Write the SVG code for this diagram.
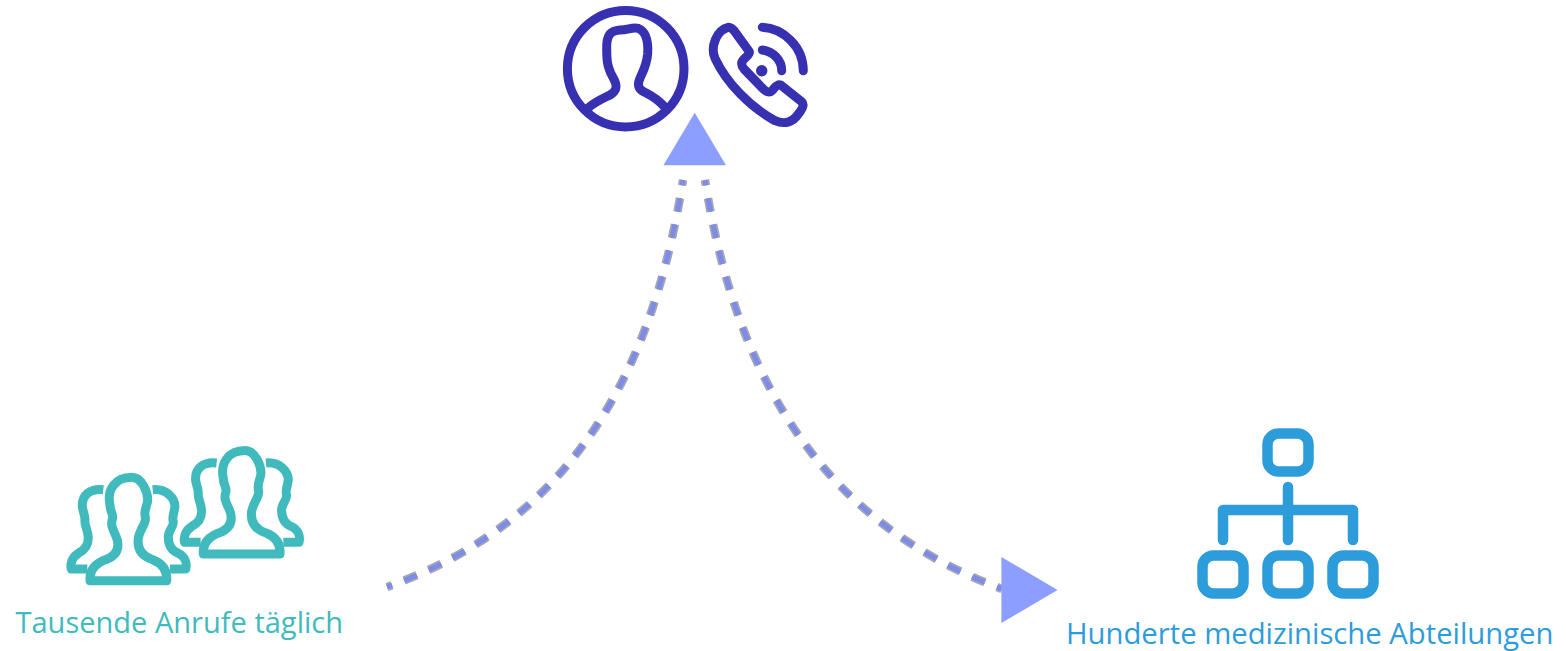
<svg xmlns="http://www.w3.org/2000/svg" width="1566" height="651" viewBox="0 0 1566 651">
<style>
.label{font-family:"Open Sans","Noto Sans","Liberation Sans",sans-serif;font-size:30px}
.tri{fill:#8c9eff}
.wire{fill:none;stroke:#7d8ce6;stroke-width:5;stroke-dasharray:13 12;stroke-dashoffset:8}
.halo{fill:none;stroke:#8f8fa0;stroke-width:8.5;stroke-dasharray:13 12;stroke-dashoffset:8;opacity:.8}
.ph{fill:none;stroke:#3730b0;stroke-width:9;stroke-linecap:round;stroke-linejoin:round}
.team{fill:none;stroke:#40babd;stroke-width:9;stroke-linejoin:round}
.org{fill:none;stroke:#2d9cdb;stroke-width:10.5;stroke-linecap:round;stroke-linejoin:round}
</style>
<defs>
<filter id="soft" x="-5%" y="-5%" width="110%" height="110%"><feGaussianBlur stdDeviation="0.7"/></filter>
<g id="team">
<path d="M90,580.700C89.300,570 95,563.300 106.700,559.300C116.700,555 119.300,548.300 117.300,540C115,531.700 109.300,526.700 112.700,518.300C113.300,513.300 110,511.700 110,505C106.700,490 115,477.300 131.700,477.300C141.700,477.300 147.700,491.700 147.700,500C147.700,505 143.300,510 145.300,517.300C146.700,523.300 140,528.300 138.300,538.300C136.700,550 143.300,556.700 153.300,560C163.300,564 167.300,571.700 166.700,580.700Z"/>
<path d="M103.300,489.700C90,488.300 81.700,495 82.300,506.700C83.300,513.300 85,515 85,520C84,525 88.300,530 88.300,538.300C88.300,546.700 83.300,550.700 78.300,553.300C71.700,557.300 70,565 71.300,569H87.300"/>
<path d="M152.700,489.700C166.700,488.300 175,498.300 175,506.700C174,513.300 171.700,518.300 173.300,521.700C174,526.700 168.300,530 168.300,536.700C168.300,545 171.700,550.700 178.300,553.300C185,556.700 187.300,563.300 185.700,569H170"/>
</g>
</defs>
<g id="connectors">
<g filter="url(#soft)">
<path class="halo" pathLength="497" d="M683,180C650,390 560,525 387,587"/>
<path class="halo" pathLength="497" d="M705,180C738,390 830,525 1002,589"/>
<path class="wire" pathLength="497" d="M683,180C650,390 560,525 387,587"/>
<path class="wire" pathLength="497" d="M705,180C738,390 830,525 1002,589"/>
</g>
<polygon class="tri" points="694.700,112.700 663.400,165.300 726,165.300"/>
<polygon class="tri" points="1001.400,557 1057.500,590 1001.400,623"/>
</g>
<g id="node-agent">
<circle class="ph" cx="625.700" cy="68.700" r="58.300"/>
<path class="ph" d="M587.700,108.300C595,101.700 603.300,98.300 610,95C617.300,90.700 617.300,86 614,79.300C608.300,70 606.700,63.300 606.700,50C606,33.300 611.700,30.700 620,30C628.300,30 631.700,26.700 638.300,28.300C646.700,31.700 648.300,41.700 647.700,53.300C646.700,66.700 641.700,73.300 639.300,80C636.700,87.300 640,90 646.700,93.300C653.300,96.700 660,101.700 665,107.300"/>
<path class="ph" d="M728.300,27.300C732.700,27.300 734,30.700 736.700,34.300L749.300,51.700C750,54 746.700,56.700 744,59C740.700,62.300 741,65.700 744,69L761.700,87.300C766.700,92.700 770,93.300 773.300,89.300C775,87.300 777.300,84 780.700,85L801.700,101.700C805,105 801.700,110 798.300,114C793.300,121.700 785,125 775,120.700C750,106.700 726.700,83.300 715,58.300C710,46.700 716.700,30 728.300,27.300Z"/>
<path class="ph" d="M762.300,27.300C783.300,28.300 803.300,46.700 803.300,70.700"/>
<path class="ph" d="M762.300,50C773.300,51.700 781.700,60 781.700,70.700"/>
<circle cx="761.700" cy="70.700" r="5.700" fill="#3730b0"/>
</g>
<g id="node-callers">
<g class="team"><use href="#team"/><use href="#team" x="113.300" y="-26.700"/></g>
<text class="label" x="15.500" y="632.500" fill="#40babd" textLength="327.500" lengthAdjust="spacingAndGlyphs">Tausende Anrufe täglich</text>
</g>
<g id="node-departments">
<rect class="org" x="1267.500" y="433.500" width="41" height="38" rx="11"/>
<rect class="org" x="1202.500" y="555.500" width="41" height="38" rx="11"/>
<rect class="org" x="1267.500" y="555.500" width="41" height="38" rx="11"/>
<rect class="org" x="1332.500" y="555.500" width="41" height="38" rx="11"/>
<path class="org" d="M1223,540V510H1353V540M1288,487V540"/>
<text class="label" x="1066" y="644.300" fill="#2d9cdb" textLength="487.500" lengthAdjust="spacingAndGlyphs">Hunderte medizinische Abteilungen</text>
</g>
</svg>
